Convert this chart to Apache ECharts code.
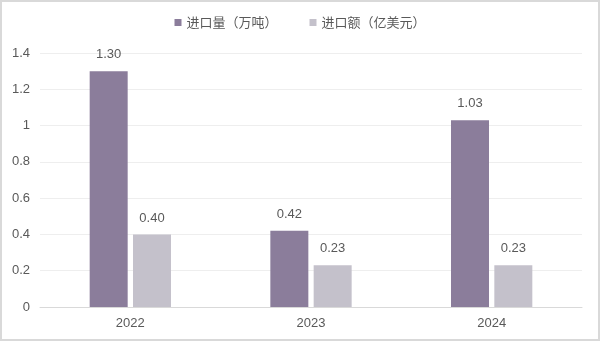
<!DOCTYPE html>
<html><head><meta charset="utf-8">
<script src="https://cdn.jsdelivr.net/npm/echarts@6/dist/echarts.min.js"></script>
<style>html,body{margin:0;padding:0;background:#fff}#c{width:600px;height:341px;box-sizing:border-box;border:2px solid #D9D9D9}</style>
</head><body><div id="c"></div>
<script>
const categories = ['2022', '2023', '2024'];
const volume = [1.30, 0.42, 1.03];
const value = [0.40, 0.23, 0.23];
const seriesNames = ['进口量（万吨）', '进口额（亿美元）'];
const yTicks = [0, 0.2, 0.4, 0.6, 0.8, 1, 1.2, 1.4];

const chart = echarts.init(document.getElementById('c'));
const font = 'Liberation Sans, "Noto Sans CJK SC", sans-serif';
chart.setOption({
  animation: false,
  textStyle: { fontFamily: font },
  legend: {
    top: 9, left: 'center', itemWidth: 7, itemHeight: 7, itemGap: 32,
    icon: 'rect',
    textStyle: { color: '#595959', fontSize: 13, fontFamily: '"Noto Sans CJK SC", sans-serif' },
    data: seriesNames
  },
  grid: { left: 38, right: 16, top: 51, bottom: 32 },
  xAxis: {
    type: 'category', data: categories,
    axisLine: { lineStyle: { color: '#D9D9D9' } },
    axisTick: { show: false },
    axisLabel: { color: '#595959', fontSize: 13, margin: 10 }
  },
  yAxis: {
    type: 'value', min: 0, max: 1.4, interval: 0.2,
    axisLabel: { color: '#595959', fontSize: 13, margin: 10, formatter: v => String(+v.toFixed(1)) },
    splitLine: { lineStyle: { color: '#EEEEEE' } },
    axisLine: { show: false }, axisTick: { show: false }
  },
  series: [
    { name: seriesNames[0], type: 'bar', data: volume, barWidth: 38, barGap: '14%',
      itemStyle: { color: '#8B7D9B' },
      label: { show: true, position: 'top', color: '#595959', fontSize: 13, distance: 10, formatter: p => p.value.toFixed(2) } },
    { name: seriesNames[1], type: 'bar', data: value, barWidth: 38,
      itemStyle: { color: '#C4C1CB' },
      label: { show: true, position: 'top', color: '#595959', fontSize: 13, distance: 10, formatter: p => p.value.toFixed(2) } }
  ]
});
</script></body></html>
